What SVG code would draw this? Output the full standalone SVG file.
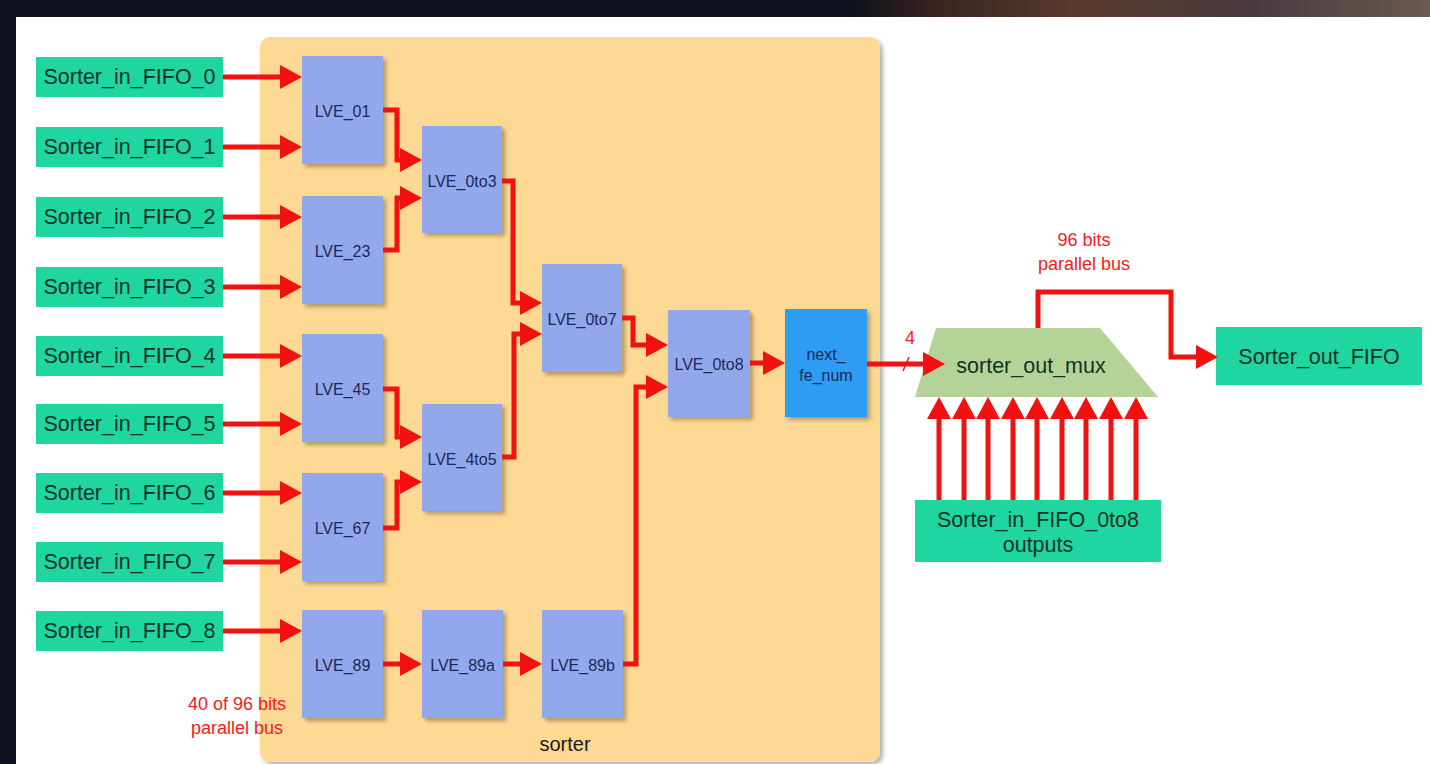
<svg xmlns="http://www.w3.org/2000/svg" width="1430" height="764" viewBox="0 0 1430 764">
<style>
.fifo{fill:#1fd5a0}
.fifot{font-family:"Liberation Sans",Arial,sans-serif;font-size:21.5px;fill:#0f3326;text-anchor:middle;dominant-baseline:central}
.lve{fill:#93a8ec}
.lvet{font-family:"Liberation Sans",Arial,sans-serif;font-size:16px;fill:#1c2858;text-anchor:middle;dominant-baseline:central}
.red{font-family:"Liberation Sans",Arial,sans-serif;font-size:18px;fill:#f02020;text-anchor:middle;dominant-baseline:central}
.wire{fill:none;stroke:#f21010;stroke-width:5;marker-end:url(#ah)}
</style>
<defs>
<marker id="ah" markerUnits="userSpaceOnUse" viewBox="0 0 22 24" refX="12" refY="12" markerWidth="22" markerHeight="24" orient="auto">
<path d="M0,0 L22,12 L0,24 z" fill="#f21010"/>
</marker>
<filter id="sh" x="-10%" y="-10%" width="130%" height="130%">
<feDropShadow dx="3" dy="3" stdDeviation="2" flood-color="#000" flood-opacity="0.3"/>
</filter>
<linearGradient id="tr" x1="0" y1="0" x2="1" y2="0">
<stop offset="0" stop-color="#0d111c"/>
<stop offset="0.15" stop-color="#3a2420"/>
<stop offset="0.4" stop-color="#5a3a2c"/>
<stop offset="0.7" stop-color="#4a3a40"/>
<stop offset="1" stop-color="#6a5a50"/>
</linearGradient>
</defs>
<rect x="0" y="0" width="1430" height="764" fill="#ffffff"/>
<rect x="0" y="0" width="1430" height="17" fill="#0d111c"/>
<rect x="850" y="0" width="580" height="17" fill="url(#tr)"/>
<rect x="0" y="0" width="16" height="764" fill="#0d111c"/>

<g id="sorter">
<rect x="260" y="37" width="620" height="725" rx="10" fill="#fdd993" filter="url(#sh)"/>
<text x="565" y="744" font-family="Liberation Sans,Arial,sans-serif" font-size="20" fill="#1a1a1a" text-anchor="middle" dominant-baseline="central">sorter</text>
</g>

<g id="fifo0"><rect class="fifo" x="36" y="57" width="187" height="40"/><text class="fifot" x="129.5" y="77">Sorter_in_FIFO_0</text></g>
<g id="fifo1"><rect class="fifo" x="36" y="127" width="187" height="40"/><text class="fifot" x="129.5" y="147">Sorter_in_FIFO_1</text></g>
<g id="fifo2"><rect class="fifo" x="36" y="197" width="187" height="40"/><text class="fifot" x="129.5" y="217">Sorter_in_FIFO_2</text></g>
<g id="fifo3"><rect class="fifo" x="36" y="267" width="187" height="40"/><text class="fifot" x="129.5" y="287">Sorter_in_FIFO_3</text></g>
<g id="fifo4"><rect class="fifo" x="36" y="336" width="187" height="40"/><text class="fifot" x="129.5" y="356">Sorter_in_FIFO_4</text></g>
<g id="fifo5"><rect class="fifo" x="36" y="404" width="187" height="40"/><text class="fifot" x="129.5" y="424">Sorter_in_FIFO_5</text></g>
<g id="fifo6"><rect class="fifo" x="36" y="473" width="187" height="40"/><text class="fifot" x="129.5" y="493">Sorter_in_FIFO_6</text></g>
<g id="fifo7"><rect class="fifo" x="36" y="542" width="187" height="40"/><text class="fifot" x="129.5" y="562">Sorter_in_FIFO_7</text></g>
<g id="fifo8"><rect class="fifo" x="36" y="611" width="187" height="40"/><text class="fifot" x="129.5" y="631">Sorter_in_FIFO_8</text></g>

<g id="lve01"><rect class="lve" x="302" y="56" width="81" height="108" filter="url(#sh)"/><text class="lvet" x="342.5" y="111">LVE_01</text></g>
<g id="lve23"><rect class="lve" x="302" y="196" width="81" height="108" filter="url(#sh)"/><text class="lvet" x="342.5" y="251">LVE_23</text></g>
<g id="lve45"><rect class="lve" x="302" y="334" width="81" height="108" filter="url(#sh)"/><text class="lvet" x="342.5" y="389">LVE_45</text></g>
<g id="lve67"><rect class="lve" x="302" y="473" width="81" height="108" filter="url(#sh)"/><text class="lvet" x="342.5" y="528">LVE_67</text></g>
<g id="lve89"><rect class="lve" x="302" y="610" width="81" height="108" filter="url(#sh)"/><text class="lvet" x="342.5" y="665">LVE_89</text></g>
<g id="lve0to3"><rect class="lve" x="422" y="126" width="80" height="107" filter="url(#sh)"/><text class="lvet" x="462" y="181">LVE_0to3</text></g>
<g id="lve4to5"><rect class="lve" x="422" y="404" width="80" height="107" filter="url(#sh)"/><text class="lvet" x="462" y="459">LVE_4to5</text></g>
<g id="lve89a"><rect class="lve" x="422" y="610" width="81" height="108" filter="url(#sh)"/><text class="lvet" x="462.5" y="665">LVE_89a</text></g>
<g id="lve0to7"><rect class="lve" x="542" y="264" width="80" height="108" filter="url(#sh)"/><text class="lvet" x="582" y="319">LVE_0to7</text></g>
<g id="lve89b"><rect class="lve" x="542" y="610" width="81" height="108" filter="url(#sh)"/><text class="lvet" x="582.5" y="665">LVE_89b</text></g>
<g id="lve0to8"><rect class="lve" x="668" y="310" width="82" height="107" filter="url(#sh)"/><text class="lvet" x="709" y="364">LVE_0to8</text></g>
<g id="nextfe"><rect x="785" y="309" width="82" height="108" fill="#2e9cf3" filter="url(#sh)"/><text class="lvet" x="826" y="354">next_</text><text class="lvet" x="826" y="375">fe_num</text></g>

<g id="mux"><polygon points="936,328 1100,328 1158,397 915,397" fill="#b3d496"/><text class="fifot" x="1031" y="366" fill="#1a1a1a">sorter_out_mux</text></g>
<g id="outfifo"><rect class="fifo" x="1216" y="327" width="206" height="58"/><text class="fifot" x="1319" y="357">Sorter_out_FIFO</text></g>
<g id="infifos"><rect class="fifo" x="915" y="500" width="246" height="62"/><text class="fifot" x="1038" y="520">Sorter_in_FIFO_0to8</text><text class="fifot" x="1038" y="545">outputs</text></g>

<g id="labels">
<text class="red" x="1084" y="240">96 bits</text>
<text class="red" x="1084" y="264">parallel bus</text>
<text class="red" x="237" y="704">40 of 96 bits</text>
<text class="red" x="237" y="728">parallel bus</text>
<text class="red" x="910" y="338">4</text>
</g>

<g id="connectors">
<path class="wire" d="M223,77 H292"/>
<path class="wire" d="M223,147 H292"/>
<path class="wire" d="M223,217 H292"/>
<path class="wire" d="M223,287 H292"/>
<path class="wire" d="M223,356 H292"/>
<path class="wire" d="M223,424 H292"/>
<path class="wire" d="M223,493 H292"/>
<path class="wire" d="M223,562 H292"/>
<path class="wire" d="M223,631 H292"/>
<path class="wire" d="M383,110 H397 V160 H412"/>
<path class="wire" d="M383,250 H397 V198 H412"/>
<path class="wire" d="M383,389 H397 V437 H412"/>
<path class="wire" d="M383,528 H397 V482 H412"/>
<path class="wire" d="M502,181 H513 V303 H532"/>
<path class="wire" d="M502,457 H514 V334 H532"/>
<path class="wire" d="M622,318 H633 V345 H658"/>
<path class="wire" d="M623,664 H636 V387 H658"/>
<path class="wire" d="M750,363 H775"/>
<path class="wire" d="M383,664 H412"/>
<path class="wire" d="M503,664 H532"/>
<path class="wire" d="M867,364 H935"/>
<path d="M903,371 L909,357" stroke="#f21010" stroke-width="1.5" fill="none"/>
<path class="wire" d="M1038,328 V292 H1171 V357 H1208"/>
<path class="wire" d="M939,500 V407"/>
<path class="wire" d="M964,500 V407"/>
<path class="wire" d="M988,500 V407"/>
<path class="wire" d="M1013,500 V407"/>
<path class="wire" d="M1037,500 V407"/>
<path class="wire" d="M1062,500 V407"/>
<path class="wire" d="M1086,500 V407"/>
<path class="wire" d="M1111,500 V407"/>
<path class="wire" d="M1136,500 V407"/>
</g>
</svg>
